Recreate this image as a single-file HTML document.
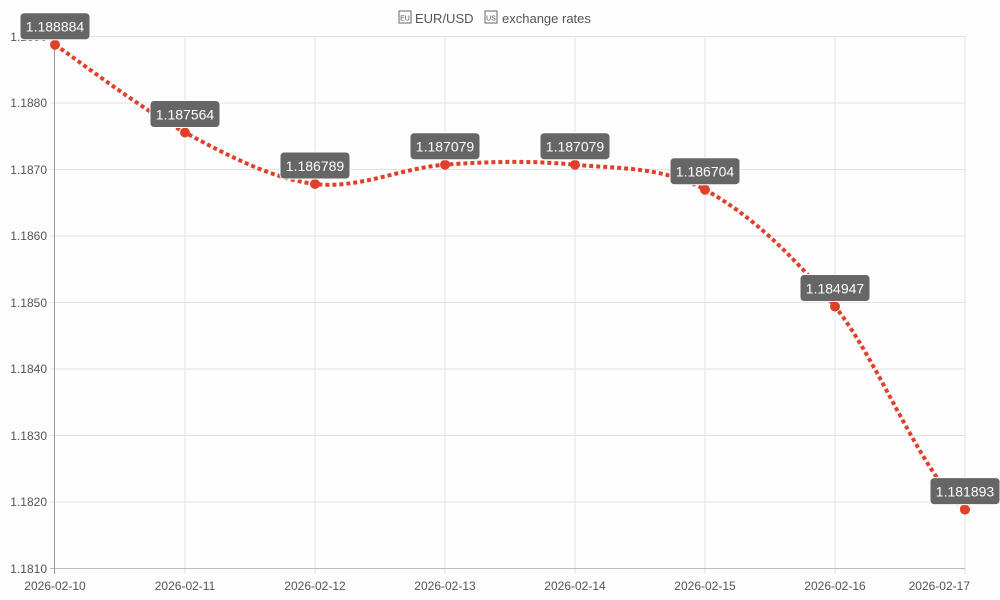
<!DOCTYPE html>
<html><head><meta charset="utf-8"><style>
html,body{margin:0;padding:0;background:#fdfdfd;}
svg{display:block;font-family:"Liberation Sans",sans-serif;}
</style></head><body>
<svg width="1000" height="600" viewBox="0 0 1000 600">
<rect width="1000" height="600" fill="#fdfdfd"/>
<g stroke="#e2e2e2" stroke-width="1">
<line x1="50" y1="36.5" x2="965" y2="36.5"/>
<line x1="50" y1="103" x2="965" y2="103"/>
<line x1="50" y1="169.5" x2="965" y2="169.5"/>
<line x1="50" y1="236" x2="965" y2="236"/>
<line x1="50" y1="302.5" x2="965" y2="302.5"/>
<line x1="50" y1="369" x2="965" y2="369"/>
<line x1="50" y1="435.5" x2="965" y2="435.5"/>
<line x1="50" y1="502" x2="965" y2="502"/>
<line x1="185" y1="36" x2="185" y2="574"/>
<line x1="315" y1="36" x2="315" y2="574"/>
<line x1="445" y1="36" x2="445" y2="574"/>
<line x1="575" y1="36" x2="575" y2="574"/>
<line x1="705" y1="36" x2="705" y2="574"/>
<line x1="835" y1="36" x2="835" y2="574"/>
<line x1="965" y1="36" x2="965" y2="574"/>
</g>
<line x1="50" y1="568.5" x2="965" y2="568.5" stroke="#bbb"/>
<line x1="54.5" y1="36" x2="54.5" y2="574" stroke="#999"/>
<g font-size="12" fill="#555" text-anchor="end">
<text x="47" y="41">1.1890</text>
<text x="47" y="107">1.1880</text>
<text x="47" y="174">1.1870</text>
<text x="47" y="240">1.1860</text>
<text x="47" y="307">1.1850</text>
<text x="47" y="373">1.1840</text>
<text x="47" y="440">1.1830</text>
<text x="47" y="506">1.1820</text>
<text x="47" y="573">1.1810</text>
</g>
<g font-size="12" fill="#555" text-anchor="middle">
<text x="55" y="590">2026-02-10</text>
<text x="185" y="590">2026-02-11</text>
<text x="315" y="590">2026-02-12</text>
<text x="445" y="590">2026-02-13</text>
<text x="575" y="590">2026-02-14</text>
<text x="705" y="590">2026-02-15</text>
<text x="835" y="590">2026-02-16</text>
<text x="970" y="590" text-anchor="end">2026-02-17</text>
</g>
<rect x="399" y="11" width="12" height="12" fill="none" stroke="#666" stroke-width="1"/>
<text x="405" y="20.5" font-size="7" fill="#555" text-anchor="middle">EU</text>
<text x="415" y="23" font-size="13" fill="#555">EUR/USD</text>
<rect x="485" y="11" width="12" height="12" fill="none" stroke="#666" stroke-width="1"/>
<text x="491" y="20.5" font-size="7" fill="#555" text-anchor="middle">US</text>
<text x="502" y="23" font-size="13" fill="#555">exchange rates</text>
<path d="M55,44.7 C76.7,59.3 141.7,109.3 185,132.5 C228.3,155.7 271.7,178.7 315,184 C358.3,189.3 401.7,167.9 445,164.7 C488.3,161.5 531.7,160.5 575,164.7 C618.3,168.9 661.7,166.1 705,189.7 C748.3,213.3 791.7,253.2 835,306.5 C878.3,359.8 921.7,475.7 965,509.6" fill="none" stroke="#e0402a" stroke-width="4" stroke-dasharray="4 3"/>
<g fill="#e0402a">
<circle cx="55" cy="44.7" r="5"/><circle cx="185" cy="132.5" r="5"/><circle cx="315" cy="184" r="5"/><circle cx="445" cy="164.7" r="5"/><circle cx="575" cy="164.7" r="5"/><circle cx="705" cy="189.7" r="5"/><circle cx="835" cy="306.5" r="5"/><circle cx="965" cy="509.6" r="5"/>
</g>
<g font-size="14" fill="#fff" text-anchor="middle">
<g transform="translate(55,44.7)"><rect x="-35" y="-32" width="70" height="27" rx="4" fill="#666" stroke="#fff"/><text y="-13">1.188884</text></g>
<g transform="translate(185,132.5)"><rect x="-35" y="-32" width="70" height="27" rx="4" fill="#666" stroke="#fff"/><text y="-13">1.187564</text></g>
<g transform="translate(315,184)"><rect x="-35" y="-32" width="70" height="27" rx="4" fill="#666" stroke="#fff"/><text y="-13">1.186789</text></g>
<g transform="translate(445,164.7)"><rect x="-35" y="-32" width="70" height="27" rx="4" fill="#666" stroke="#fff"/><text y="-13">1.187079</text></g>
<g transform="translate(575,164.7)"><rect x="-35" y="-32" width="70" height="27" rx="4" fill="#666" stroke="#fff"/><text y="-13">1.187079</text></g>
<g transform="translate(705,189.7)"><rect x="-35" y="-32" width="70" height="27" rx="4" fill="#666" stroke="#fff"/><text y="-13">1.186704</text></g>
<g transform="translate(835,306.5)"><rect x="-35" y="-32" width="70" height="27" rx="4" fill="#666" stroke="#fff"/><text y="-13">1.184947</text></g>
<g transform="translate(965,509.6)"><rect x="-35" y="-32" width="70" height="27" rx="4" fill="#666" stroke="#fff"/><text y="-13">1.181893</text></g>
</g>
</svg>
</body></html>
